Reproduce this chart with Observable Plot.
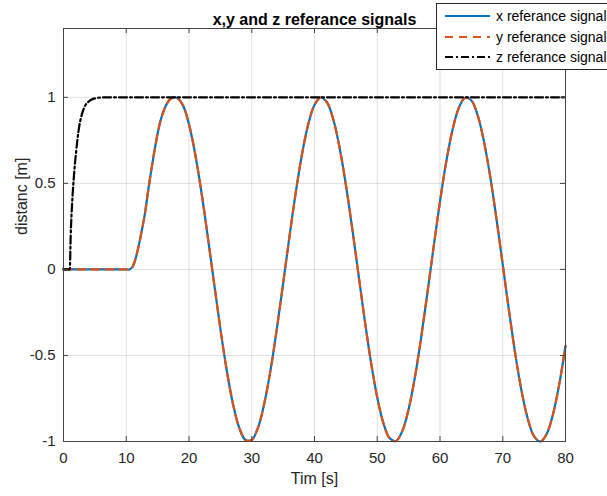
<!DOCTYPE html>
<html><head><meta charset="utf-8">
<script src="https://cdn.jsdelivr.net/npm/d3@7"></script>
<script src="https://cdn.jsdelivr.net/npm/@observablehq/plot@0.6"></script>
<style>html,body{margin:0;padding:0;background:#fff} svg{display:block}</style>
</head><body><div id="chart"></div>
<script>
const title = "x,y and z referance signals";
const xLabel = "Tim [s]";
const yLabel = "distanc [m]";
const seriesNames = ["x referance signal", "y referance signal", "z referance signal"];
const seriesColors = ["#0072BD", "#D95319", "#000000"];
const xTicks = [0, 10, 20, 30, 40, 50, 60, 70, 80];
const yTicks = [-1, -0.5, 0, 0.5, 1];
const yTickLabels = ["-1", "-0.5", "0", "0.5", "1"];

const timeXY = [0,1,2,3,4,5,6,7,8,9,10,
  10.5,11,11.5,12,12.5,13,13.5,14,14.5,15,15.5,16,16.5,17,17.5,18,
  19,20,21,22,23,24,25,26,27,28,29,30,31,32,33,34,35,36,37,38,39,40,
  41,42,43,44,45,46,47,48,49,50,51,52,53,54,55,56,57,58,59,60,
  61,62,63,64,65,66,67,68,69,70,71,72,73,74,75,76,77,78,79,80];
const xRef = [0,0,0,0,0,0,0,0,0,0,0,
  0,0.015,0.065,0.14,0.23,0.33,0.46,0.58,0.69,0.79,0.87,0.925,0.965,0.99,0.999,0.999,
  0.956,0.843,0.668,0.444,0.188,-0.081,-0.345,-0.583,-0.780,-0.919,-0.991,-0.991,-0.919,-0.779,-0.584,-0.345,-0.081,0.188,0.444,0.668,0.843,0.956,
  1.0,0.970,0.871,0.707,0.492,0.241,-0.027,-0.293,-0.539,-0.744,-0.896,-0.982,-0.997,-0.939,-0.812,-0.627,-0.395,-0.135,0.135,0.395,
  0.627,0.812,0.939,0.997,0.982,0.896,0.744,0.539,0.294,0.027,-0.241,-0.492,-0.707,-0.870,-0.970,-1.0,-0.956,-0.843,-0.668,-0.445];
const yRef = [0,0,0,0,0,0,0,0,0,0,0,
  0,0.015,0.065,0.14,0.23,0.33,0.46,0.58,0.69,0.79,0.87,0.925,0.965,0.99,0.999,0.999,
  0.956,0.843,0.668,0.444,0.188,-0.081,-0.345,-0.583,-0.780,-0.919,-0.991,-0.991,-0.919,-0.779,-0.584,-0.345,-0.081,0.188,0.444,0.668,0.843,0.956,
  1.0,0.970,0.871,0.707,0.492,0.241,-0.027,-0.293,-0.539,-0.744,-0.896,-0.982,-0.997,-0.939,-0.812,-0.627,-0.395,-0.135,0.135,0.395,
  0.627,0.812,0.939,0.997,0.982,0.896,0.744,0.539,0.294,0.027,-0.241,-0.492,-0.707,-0.870,-0.970,-1.0,-0.956,-0.843,-0.668,-0.445];
const timeZ = [0, 1, 1.15, 1.4, 1.7, 2, 2.5, 3, 3.5, 4, 4.5, 5, 6, 7, 80];
const zRef  = [0, 0, 0.2, 0.4, 0.56, 0.68, 0.83, 0.91, 0.955, 0.975, 0.987, 0.994, 0.999, 1, 1];

const W = 607, H = 496;
const mL = 63, mR = 42, mT = 28, mB = 55;
const innerW = W - mL - mR, innerH = H - mT - mB;
const axisColor = "#444";
const font = "'Liberation Sans', Arial, sans-serif";

const svg = Plot.plot({
  width: W, height: H,
  marginLeft: mL, marginRight: mR, marginTop: mT, marginBottom: mB,
  style: {fontFamily: font, fontSize: "15px", color: "#262626", background: "#fff"},
  x: {domain: [0, 80]},
  y: {domain: [-1, 1.4]},
  marks: [
    Plot.gridX({ticks: xTicks, stroke: "#000", strokeOpacity: 0.12}),
    Plot.gridY({ticks: yTicks, stroke: "#000", strokeOpacity: 0.12}),
    Plot.line(xRef, {x: timeXY, y: xRef, stroke: seriesColors[0], strokeWidth: 2.2, curve: "catmull-rom"}),
    Plot.line(yRef, {x: timeXY, y: yRef, stroke: seriesColors[1], strokeWidth: 2.2, strokeDasharray: "8,6", curve: "catmull-rom"}),
    Plot.line(zRef, {x: timeZ, y: zRef, stroke: seriesColors[2], strokeWidth: 2.2, strokeDasharray: "8,3,2,3", curve: "monotone-x"}),
    Plot.frame({stroke: axisColor}),
    Plot.tickX(xTicks, {x: d => d, insetTop: innerH - 5, stroke: axisColor}),
    Plot.tickX(xTicks, {x: d => d, insetBottom: innerH - 5, stroke: axisColor}),
    Plot.tickY(yTicks, {y: d => d, insetRight: innerW - 5, stroke: axisColor}),
    Plot.tickY(yTicks, {y: d => d, insetLeft: innerW - 5, stroke: axisColor}),
    Plot.axisX({ticks: xTicks, tickSize: 0, tickPadding: 11, label: null, tickFormat: d => String(d)}),
    Plot.axisY({ticks: yTicks, tickSize: 0, tickPadding: 8, label: null, tickFormat: d => yTickLabels[yTicks.indexOf(d)]}),
    Plot.text([xLabel], {frameAnchor: "bottom", dy: 42, fontSize: 16}),
    Plot.text([yLabel], {frameAnchor: "left", dx: -42, rotate: -90, fontSize: 16}),
    Plot.text([title], {frameAnchor: "top", dy: -15, fontSize: 16, fontWeight: "bold", fill: "#000"})
  ]
});

// Legend box (MATLAB style, top right, overlapping the axes)
const g = d3.select(svg).append("g").attr("font-family", font).attr("font-size", 14).attr("text-anchor", "start");
g.append("rect").attr("x", 436.5).attr("y", 3.5).attr("width", 180).attr("height", 66)
  .attr("fill", "#fff").attr("stroke", "#262626").attr("stroke-width", 1);
const dashes = [null, "8,6", "8,3,2,3"];
const rowY = [16, 37, 57];
seriesNames.forEach((name, i) => {
  const line = g.append("line").attr("x1", 445).attr("x2", 490).attr("y1", rowY[i]).attr("y2", rowY[i])
    .attr("stroke", seriesColors[i]).attr("stroke-width", 2.2);
  if (dashes[i]) line.attr("stroke-dasharray", dashes[i]);
  g.append("text").attr("x", 496).attr("y", rowY[i]).attr("dy", "0.35em").attr("text-anchor", "start").attr("fill", "#000").text(name);
});

document.getElementById("chart").appendChild(svg);
</script>
</body></html>
